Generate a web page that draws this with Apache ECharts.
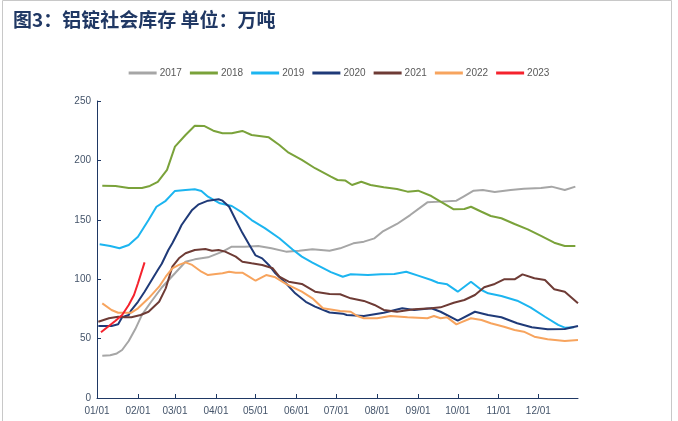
<!DOCTYPE html>
<html><head><meta charset="utf-8">
<script src="https://cdn.jsdelivr.net/npm/echarts@6/dist/echarts.min.js"></script>
<style>html,body{margin:0;padding:0;background:#fff}#c{width:678px;height:421px}</style>
</head><body><div id="c"></div><script>
// x positions are day-of-year indices (0 = 01/01)
const MONTH_DAYS = [31,28,31,30,31,30,31,31,30,31,30,31];
const MONTH_LABELS = ['01/01','02/01','03/01','04/01','05/01','06/01','07/01','08/01','09/01','10/01','11/01','12/01'];
const Y_TICKS = [0,50,100,150,200,250];
const YEARS = ['2017','2018','2019','2020','2021','2022','2023'];
const COLORS = ['#A6A6A6','#7AA23A','#1CB5F0','#1F3A78','#6E3B35','#F7A45E','#F5222D'];

const d2017 = [4,10,15,19,24,29,34,41,49,59,67,74,84,95,102,112,122,132,143,153,163,176,184,194,202,210,216,227,237,250,260,272,278,285,292,301,313,323,336,344,354,362];
const v2017 = [35.5,36,37.5,40.4,48,58,70,81,93,105,114.7,116.7,118.4,123.2,127.4,127.4,128,126,123.2,124,125.2,124,126,130.2,131.6,134.4,140,146.5,154,164.7,165.3,166.1,170,174.5,175.1,173.4,175.1,176.2,176.8,177.9,175.1,177.9];

const d2018 = [4,14,24,34,40,46,53,59,67,74,81,88,95,102,110,117,130,138,145,155,165,177,182,188,193,200,207,217,227,235,243,253,260,270,278,283,291,298,306,316,326,336,346,354,362];
const v2018 = [178.7,178.5,176.8,176.8,178.5,182,192,211.6,221.4,229.2,229,225,222.8,222.8,224.8,221.4,219.4,213,206.5,200.4,193.4,186.3,183.5,183,179.3,182,179.3,177.4,176,173.7,174.5,170,165.3,158.8,159.1,161,156.8,153.2,151.3,146.5,142,136.4,130.7,128,128];

const d2019 = [2,10,17,24,31,39,45,52,59,67,74,79,84,93,102,110,117,127,138,148,155,163,170,177,186,192,205,215,225,234,243,253,258,265,273,283,291,296,306,318,328,339,349,354,361];
const v2019 = [129.4,128,126,128.8,135.8,149.8,161,166,174.3,175.1,175.7,174.3,169.5,163.9,161.6,156,149.8,143,134.5,125,119,114,110,106,102.1,104.1,103.5,104.1,104.4,106.3,103,99.3,97,95.7,89.5,97.9,90.9,88.1,85.9,81.9,76.3,68.4,61.5,59.2,59.5];

const d2020 = [1,11,16,19,24,26,31,36,46,49,54,57,62,64,72,77,84,92,95,100,105,110,115,120,125,130,135,143,150,158,165,176,186,189,202,217,231,240,253,260,273,286,296,306,318,329,341,354,364];
const v2020 = [60.6,60.6,62,68,69.9,74,81,89.5,107.7,113,124.6,130.2,141,145.6,158.3,163,166.1,167.3,166.1,161,149.8,139,129.5,120,117.5,112,105,96.6,88.1,81,76.9,72,71,69.9,69,71.8,75.5,74.1,75.5,72.6,65.1,72.6,69.9,68,62.9,59.5,57.8,58.1,60.6];

const d2021 = [1,9,16,21,26,33,39,47,52,57,62,67,74,82,87,92,97,105,110,117,125,133,138,145,155,165,176,184,192,202,210,217,227,240,253,260,270,278,286,293,301,308,316,322,331,339,346,354,364];
const v2021 = [64.2,67.1,68.4,67.9,67.9,69.9,72.6,81,92.3,110.5,117.6,121.8,124.6,125.4,124,124.6,123.2,119,114.7,113.4,112,109.2,102.1,97.9,96,89.5,87.5,87.3,83.9,81.7,78.3,74.1,72.6,74.7,75.5,76.3,80.2,82.5,86.7,93.2,96,99.9,99.9,104.1,100.8,99.3,91.5,89.5,79.7];

const d2022 = [4,11,16,26,31,39,47,52,57,62,67,72,79,84,90,95,100,105,110,115,120,128,135,143,150,155,163,171,177,184,192,197,202,212,222,235,250,255,260,265,272,275,283,291,298,308,316,323,331,341,354,364];
const v2022 = [79.7,74.1,71.8,71.8,75.5,83.9,93.7,102.1,109.2,112,114.2,112,106.3,103.5,104.4,105,106.3,105.5,105.5,102.1,98.7,103.5,101.6,96,92.3,89.5,83.9,75.5,74.5,73.2,72.6,69,67.1,67.1,69,67.9,67.1,69,67.1,67.9,62,63.4,67.1,65.7,62.9,60,57.2,55.8,51.6,49.4,48,48.8];

const d2023 = [3,9,14,19,24,28,31,36];
const v2023 = [55.3,60.6,65.1,69.9,78.3,86.7,96.6,114.2];

const DAYS = [d2017,d2018,d2019,d2020,d2021,d2022,d2023];
const VALS = [v2017,v2018,v2019,v2020,v2021,v2022,v2023];

// build day categories MM/DD
const categories = [];
MONTH_DAYS.forEach((n, m) => {
  for (let d = 1; d <= n; d++) categories.push(String(m+1).padStart(2,'0') + '/' + String(d).padStart(2,'0'));
});
const isMonthStart = (i) => MONTH_LABELS.indexOf(categories[i]) >= 0;

const axisColor = '#1F3864';
const labelColor = '#44546A';

const series = YEARS.map((y, k) => ({
  name: y, type: 'line', showSymbol: false, symbol: 'none',
  data: DAYS[k].map((d, i) => [d, VALS[k][i]]),
  lineStyle: { width: 2, color: COLORS[k] },
  itemStyle: { color: COLORS[k] },
  emphasis: { disabled: true }, animation: false
}));

const chart = echarts.init(document.getElementById('c'), null, { renderer: 'canvas' });
chart.setOption({
  animation: false,
  backgroundColor: '#fff',
  title: {
    text: '图3：铝锭社会库存 单位：万吨', left: 8, top: 5,
    textStyle: { fontFamily: '"Noto Sans CJK SC", sans-serif', fontSize: 19, fontWeight: 'bold', color: '#203864' }
  },
  legend: {
    data: YEARS, top: 63, left: 'center', itemWidth: 28, itemHeight: 3, itemGap: 8, icon: 'rect',
    textStyle: { fontFamily: 'Liberation Sans, Arial', fontSize: 10, color: '#595959', padding: [0,0,0,-2] }
  },
  grid: { left: 97, right: 100, top: 101, bottom: 23, containLabel: false },
  xAxis: {
    type: 'category', data: categories, boundaryGap: false,
    axisLine: { lineStyle: { color: axisColor, width: 1 } },
    axisTick: { inside: true, length: 4, interval: isMonthStart, lineStyle: { color: axisColor } },
    axisLabel: { interval: isMonthStart, color: labelColor, fontFamily: 'Liberation Sans, Arial', fontSize: 10, margin: 8 },
    splitLine: { show: false }
  },
  yAxis: {
    type: 'value', min: Y_TICKS[0], max: Y_TICKS[Y_TICKS.length-1], interval: 50,
    axisLine: { show: true, lineStyle: { color: axisColor, width: 1 } },
    axisTick: { show: true, inside: true, length: 4, lineStyle: { color: axisColor } },
    axisLabel: { color: labelColor, fontFamily: 'Liberation Sans, Arial', fontSize: 10, margin: 6 },
    splitLine: { show: false }
  },
  graphic: [{
    type: 'rect', shape: { x: 2.5, y: 0.5, width: 669, height: 440 },
    style: { fill: 'none', stroke: '#c8c8c8', lineWidth: 1 }, silent: true, z: -1
  }],
  series: series
});
</script></body></html>
